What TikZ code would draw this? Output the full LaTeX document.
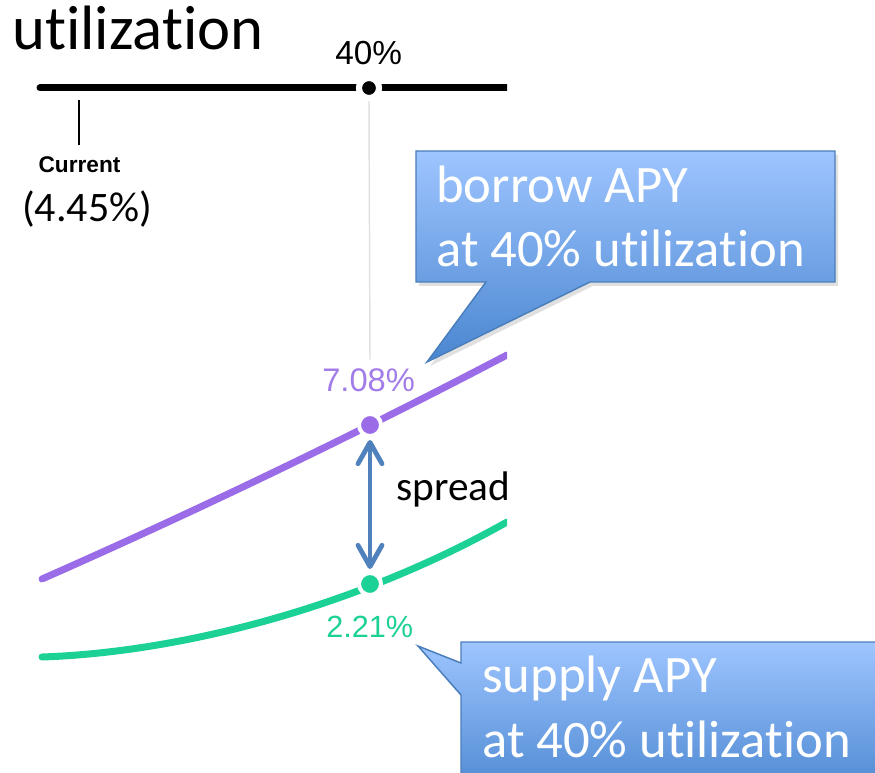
\documentclass[tikz,border=0pt]{standalone}
\usepackage{fontspec}
\setmainfont{Carlito}[RawFeature={-liga;-clig;-calt;-dlig;-hlig}]
\newfontfamily\helv{Liberation Sans}
\usetikzlibrary{arrows.meta}
\newcommand{\utilword}{ut\kern0pt ilizat\kern0pt ion}
\definecolor{purp}{HTML}{9B6CE8}
\definecolor{purptxt}{HTML}{A27CE8}
\definecolor{grn}{HTML}{1CD195}
\definecolor{cbord}{HTML}{4A7EBB}
\definecolor{ctop}{HTML}{9EC5FF}
\definecolor{cbot}{HTML}{4A86D0}
\definecolor{arrc}{HTML}{4F81BD}
\tikzset{
  txt/.style={anchor=base west, inner sep=0pt},
  dotmark/.style={circle, inner sep=0pt, minimum size=16.5pt, draw=white, line width=3pt},
  callout/.style={draw=cbord, line width=1.1pt, line join=miter, top color=ctop, bottom color=cbot},
  cshadow/.style={fill=black, opacity=0.12},
  calltxt/.style={txt, text=white, font=\fontsize{39.5}{40}\selectfont},
  chartline/.style={line width=5.25pt, line cap=round},
  spreadarrow/.style={draw=arrc, line width=3.6pt, {Straight Barb[length=16pt,width=18pt,line cap=round,line join=round]}-{Straight Barb[length=16pt,width=18pt,line cap=round,line join=round]}}
}
\begin{document}
\begin{tikzpicture}[x=0.75pt,y=-0.75pt]
\useasboundingbox (0,0) rectangle (875,773);
\clip (0,0) rectangle (875,773);

% title
\node[txt, font=\fontsize{47}{47}\selectfont] (title) at (12,50) {\utilword};

% chart lines (clipped at right edge of chart)
\begin{scope}
\clip (0,0) rectangle (507,773);
\draw[line width=5.25pt, line cap=round] (40,88) -- (520,88);
\draw[chartline, purp] (42,579) .. controls (200.7,509) and (355.7,434.3) .. (507,355);
\draw[chartline, grn] (42,657) .. controls (180.7,652.3) and (355.7,607.3) .. (507,522);
\end{scope}

% gray guide and axis marker
\node[dotmark, fill=black, minimum size=15pt, line width=4.5pt] (axdot) at (369,88) {};
\coordinate (guideend) at (370,360);
\draw[black!12, line width=1.1pt] (axdot.south) -- (guideend);
\node[dotmark, fill=black, minimum size=15pt, line width=4.5pt] at (369,88) {};
\node[txt, font=\helv\fontsize{25}{25}\selectfont] (lab40) at (335,65) {40\%};

% current tick
\coordinate (tickA) at (79,100);
\coordinate (tickB) at (79,145);
\draw[line width=1.1pt] (tickA) -- (tickB);
\node[anchor=base, inner sep=0pt, font=\helv\bfseries\fontsize{17}{17}\selectfont] (cur) at (79.5,173) {Current};
\node[txt, font=\fontsize{31.5}{32}\selectfont] (curval) at (22,222) {(4.45\%)};

% dots on curves
\node[dotmark, fill=purp] (bdot) at (370,425) {};
\node[dotmark, fill=grn] (gdot) at (370,584) {};
\node[txt, text=purptxt, font=\helv\fontsize{24.5}{25}\selectfont] (lab708) at (322,392) {7.08\%};
\node[txt, text=grn, font=\helv\fontsize{23}{23}\selectfont] (lab221) at (326,637) {2.21\%};

% spread arrow
\draw[spreadarrow] ([yshift=-1.5pt]bdot.south) -- ([yshift=1.5pt]gdot.north);
\node[txt, font=\fontsize{31}{31}\selectfont] (spread) at (396,500) {spread};

% borrow callout
\fill[cshadow] (419,155) -- (838,155) -- (838,286) -- (593,286) -- (430,366) -- (489,286) -- (419,286) -- cycle;
\path[callout] (416,151) -- (835,151) -- (835,282) -- (590,282) -- (427,362) -- (486,282) -- (416,282) -- cycle;
\node[calltxt] (borrow1) at (436,203) {borrow APY};
\node[calltxt] (borrow2) at (436,267) {at 40\% \utilword};

% supply callout
\fill[cshadow] (464,646) -- (900,646) -- (900,810) -- (464,810) -- (464,699) -- (421,650) -- (464,667) -- cycle;
\path[callout] (461,642) -- (900,642) -- (900,800) -- (461,800) -- (461,695) -- (418,646) -- (461,663) -- cycle;
\node[calltxt] (supply1) at (482,692) {supply APY};
\node[calltxt] (supply2) at (482,757) {at 40\% \utilword};
\end{tikzpicture}
\end{document}
